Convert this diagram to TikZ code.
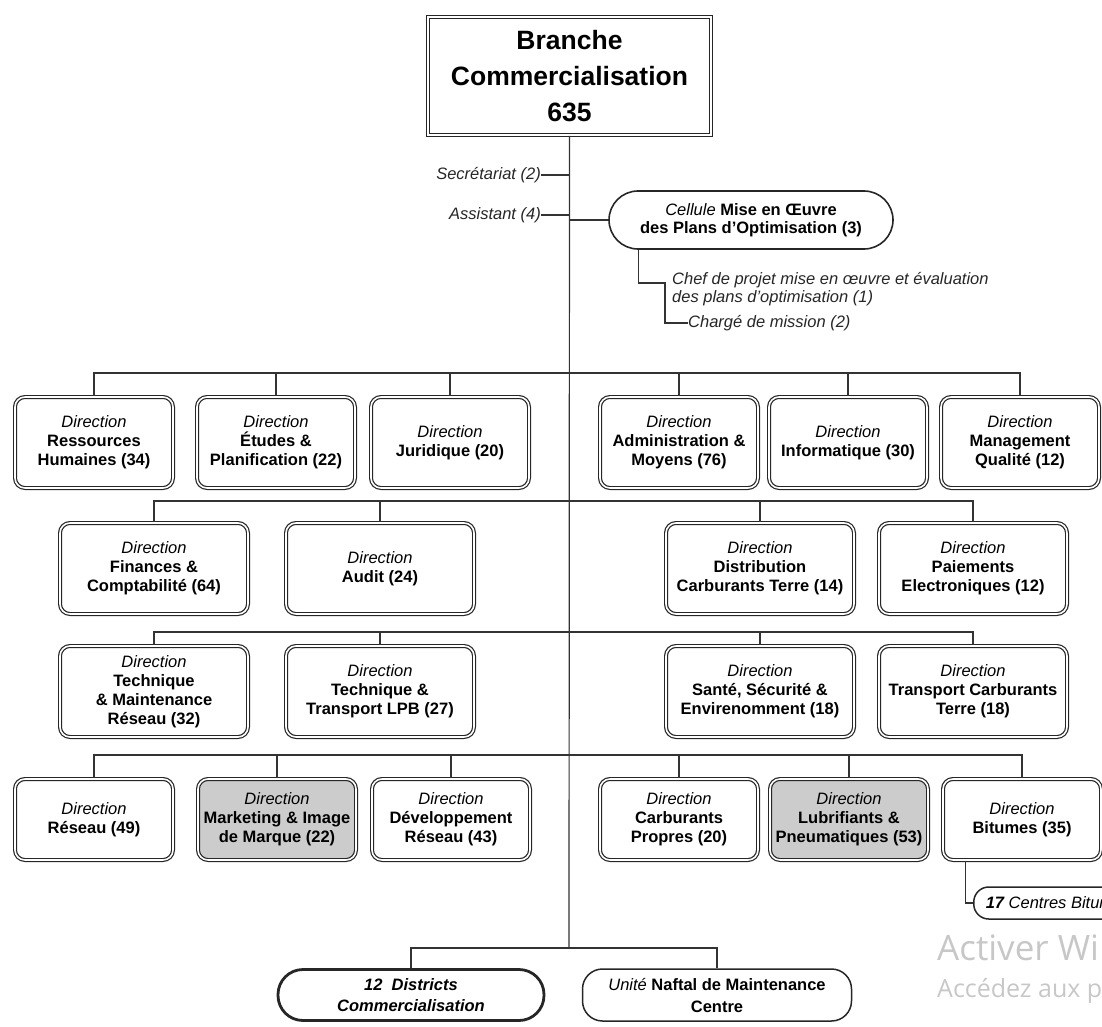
\documentclass[tikz,border=0pt]{standalone}
\usepackage{fontspec}
\setmainfont{Liberation Sans}
\newfontfamily\winfont{Open Sans}
\usetikzlibrary{calc}
\newcommand\boxfont{\fontsize{16.5}{19}\selectfont}
\newcommand\Dir{{\mdseries\itshape Direction}}
\begin{document}
\begin{tikzpicture}[x=1pt,y=-1pt,
  link/.style={line width=1.2pt, draw=black!80},
  dirbox/.style={draw=black!85, double, double distance=1.6pt, line width=1.2pt,
    rounded corners=10pt, fill=white, minimum width=158pt, minimum height=91pt,
    align=center, inner sep=1pt, font=\boxfont\bfseries},
  widebox/.style={dirbox, minimum width=188pt},
  lowbox/.style={dirbox, minimum height=81pt},
  shaded/.style={fill=black!20},
  lbl/.style={font=\boxfont\itshape, text=black!85, inner sep=0pt, align=left},
  pill/.style={draw=black!85, line width=1.5pt, align=center},
  wmark/.style={anchor=base west, inner sep=0pt, text=black!22},
]
\useasboundingbox (0,0) rectangle (1102,1027);
\clip (0,0) rectangle (1102,1027);

% head of the branch
\node[draw=black!85, double, line width=1.6pt, double distance=1.5pt,
  minimum width=283pt, minimum height=118pt, align=center,
  font=\fontsize{26.5}{36}\selectfont\bfseries] (top) at (569.5,76)
  {Branche\\Commercialisation\\635};

% staff attached to the head
\node[lbl, anchor=east] (sec) at (541,175) {Secrétariat (2)};
\node[lbl, anchor=east] (asst) at (541,215) {Assistant (4)};
\node[pill, line width=1.6pt, rounded corners=29pt, minimum width=284pt,
  minimum height=58pt, font=\fontsize{16.5}{18}\selectfont] (cel) at (751,220)
  {\textit{Cellule} \textbf{Mise en Œuvre}\\\textbf{des Plans d'Optimisation (3)}};
\node[lbl, anchor=west, font=\fontsize{16.5}{18}\selectfont\itshape] (chef) at (672,289)
  {Chef de projet mise en œuvre et évaluation\\des plans d'optimisation (1)};
\node[lbl, anchor=west] (chg) at (688,323) {Chargé de mission (2)};
\coordinate (k1) at (665,283);

% first row of directions
\node[dirbox] (rh)  at (94,442.5)  {\Dir\\Ressources\\Humaines (34)};
\node[dirbox] (etu) at (276,442.5) {\Dir\\Études \&\\Planification (22)};
\node[dirbox] (jur) at (450,442.5) {\Dir\\Juridique (20)};
\node[dirbox] (adm) at (679,442.5) {\Dir\\Administration \&\\Moyens (76)};
\node[dirbox] (inf) at (848,442.5) {\Dir\\Informatique (30)};
\node[dirbox] (mq)  at (1020,442.5) {\Dir\\Management\\Qualité (12)};

% second row
\node[widebox] (fin) at (154,568.5) {\Dir\\Finances \&\\Comptabilité (64)};
\node[widebox] (aud) at (380,568.5) {\Dir\\Audit (24)};
\node[widebox] (dis) at (760,568.5) {\Dir\\Distribution\\Carburants Terre (14)};
\node[widebox] (pai) at (973,568.5) {\Dir\\Paiements\\Electroniques (12)};

% third row
\node[widebox] (tmr) at (154,691.5) {\Dir\\Technique\\\& Maintenance\\Réseau (32)};
\node[widebox] (ttl) at (380,691.5) {\Dir\\Technique \&\\Transport LPB (27)};
\node[widebox] (sse) at (760,691.5) {\Dir\\Santé, Sécurité \&\\Envirenomment (18)};
\node[widebox] (tct) at (973,691.5) {\Dir\\Transport Carburants\\Terre (18)};

% fourth row
\node[lowbox] (res) at (94,819.5)  {\Dir\\Réseau (49)};
\node[lowbox, shaded] (mkt) at (277,819.5) {\Dir\\Marketing \& Image\\de Marque (22)};
\node[lowbox] (dev) at (451,819.5) {\Dir\\Développement\\Réseau (43)};
\node[lowbox] (cp)  at (679,819.5) {\Dir\\Carburants\\Propres (20)};
\node[lowbox, shaded] (lub) at (849,819.5) {\Dir\\Lubrifiants \&\\Pneumatiques (53)};
\node[lowbox] (bit) at (1022,819.5) {\Dir\\Bitumes (35)};

\node[pill, rounded corners=15pt, minimum height=32pt, inner xsep=12pt,
  anchor=west, font=\boxfont\itshape] (ctr) at (973,903) {\textbf{17} Centres Bitumes};

% regional units
\node[pill, line width=2.8pt, rounded corners=25pt, minimum width=266pt,
  minimum height=51pt, font=\fontsize{16.5}{21}\selectfont\bfseries\itshape]
  (d12) at (411,995) {12~~Districts\\Commercialisation};
\node[pill, rounded corners=20pt, minimum width=269pt, minimum height=52pt,
  font=\fontsize{16.5}{22}\selectfont\bfseries]
  (unm) at (717,995) {{\mdseries\itshape Unité} Naftal de Maintenance\\Centre};

% trunk and buses
\coordinate (b1) at (569,373);
\coordinate (b2) at (569,501);
\coordinate (b3) at (569,632);
\coordinate (b4) at (569,755);
\coordinate (b5) at (569,948);
\draw[link] (top.south) -- (b5);
\draw[link] (sec.east) -- (sec.east -| top.south);
\draw[link] (asst.east) -- (asst.east -| top.south);
\draw[link] (cel.west) -- (cel.west -| top.south);
\draw[link] ($(cel.south west)+(30,0)$) |- (k1) |- (chg.west);
\foreach \n in {rh,etu,jur,adm,inf,mq} \draw[link] (b1) -| (\n.north);
\foreach \n in {fin,aud,dis,pai} \draw[link] (b2) -| (\n.north);
\foreach \n in {tmr,ttl,sse,tct} \draw[link] (b3) -| (\n.north);
\foreach \n in {res,mkt,dev,cp,lub,bit} \draw[link] (b4) -| (\n.north);
\draw[link] ($(bit.south west)+(23,0)$) |- (ctr.west);
\draw[link] (b5) -| (d12.north);
\draw[link] (b5) -| (unm.north);

% overlay notice
\node[wmark, font=\winfont\fontsize{35}{35}\selectfont] (act) at (937,960) {Activer Windows};
\node[wmark, font=\winfont\fontsize{25}{25}\selectfont] (acc) at (937,997)
  {Accédez aux paramètres pour activer Windows.};
\end{tikzpicture}
\end{document}
